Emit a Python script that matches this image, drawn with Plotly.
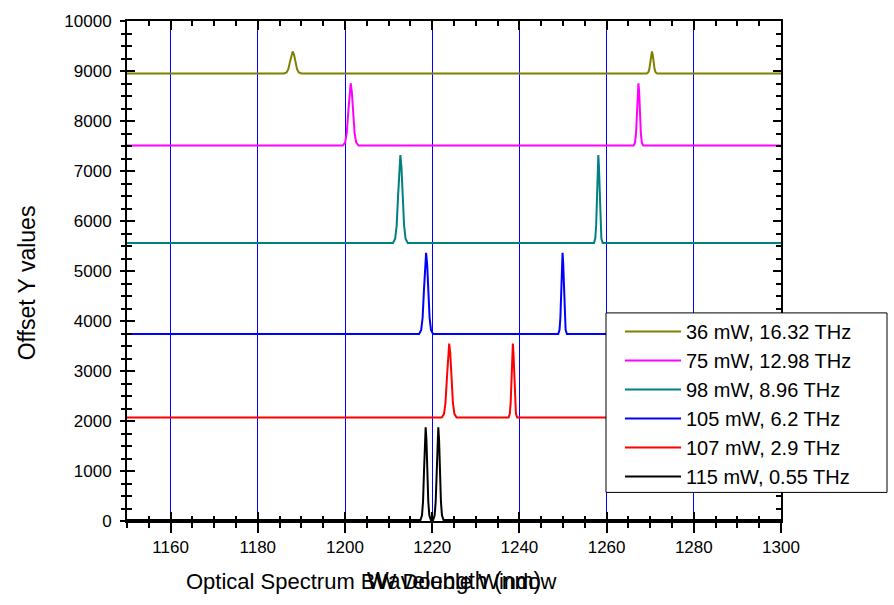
import plotly.graph_objects as go

# ---- data ----
labels = ["36 mW, 16.32 THz", "75 mW, 12.98 THz", "98 mW, 8.96 THz",
          "105 mW, 6.2 THz", "107 mW, 2.9 THz", "115 mW, 0.55 THz"]
colors = ["#808000", "#FF00FF", "#008080", "#0000FF", "#FF0000", "#000000"]

wl_36 = [1150,
         1186.0, 1186.6, 1187.0, 1187.4, 1187.7, 1188.0, 1188.3, 1188.6, 1189.0, 1189.4, 1190.0,
         1269.2, 1269.56, 1269.8, 1270.04, 1270.22, 1270.4, 1270.58, 1270.76, 1271.0, 1271.24, 1271.6,
         1300]
y_36 = [8950,
        8950, 8972, 9038, 9192, 9328, 9390, 9328, 9192, 9038, 8972, 8950,
        8950, 8972, 9038, 9192, 9328, 9390, 9328, 9192, 9038, 8972, 8950,
        8950]

wl_75 = [1150,
         1199.5, 1200.04, 1200.4, 1200.76, 1201.03, 1201.3, 1201.57, 1201.84, 1202.2, 1202.56, 1203.1,
         1266.2, 1266.53, 1266.75, 1266.97, 1267.14, 1267.3, 1267.47, 1267.63, 1267.85, 1268.07, 1268.4,
         1300]
y_75 = [7510,
        7510, 7572, 7759, 8195, 8581, 8755, 8581, 8195, 7759, 7572, 7510,
        7510, 7572, 7759, 8195, 8581, 8755, 8581, 8195, 7759, 7572, 7510,
        7510]

wl_98 = [1150,
         1211.0, 1211.51, 1211.85, 1212.19, 1212.45, 1212.7, 1212.95, 1213.21, 1213.55, 1213.89, 1214.4,
         1257.1, 1257.4, 1257.6, 1257.8, 1257.95, 1258.1, 1258.25, 1258.4, 1258.6, 1258.8, 1259.1,
         1300]
y_98 = [5560,
        5560, 5648, 5912, 6527, 7072, 7318, 7072, 6527, 5912, 5648, 5560,
        5560, 5648, 5912, 6527, 7072, 7318, 7072, 6527, 5912, 5648, 5560,
        5560]

wl_105 = [1150,
          1217.0, 1217.48, 1217.8, 1218.12, 1218.36, 1218.6, 1218.84, 1219.08, 1219.4, 1219.72, 1220.2,
          1248.9, 1249.2, 1249.4, 1249.6, 1249.75, 1249.9, 1250.05, 1250.2, 1250.4, 1250.6, 1250.9,
          1300]
y_105 = [3740,
         3740, 3821, 4065, 4634, 5138, 5365, 5138, 4634, 4065, 3821, 3740,
         3740, 3821, 4065, 4634, 5138, 5365, 5138, 4634, 4065, 3821, 3740,
         3740]

wl_107 = [1150,
          1222.2, 1222.71, 1223.05, 1223.39, 1223.65, 1223.9, 1224.15, 1224.41, 1224.75, 1225.09, 1225.6,
          1237.5, 1237.8, 1238.0, 1238.2, 1238.35, 1238.5, 1238.65, 1238.8, 1239.0, 1239.2, 1239.5,
          1300]
y_107 = [2070,
         2070, 2144, 2366, 2884, 3343, 3550, 3343, 2884, 2366, 2144, 2070,
         2070, 2144, 2366, 2884, 3343, 3550, 3343, 2884, 2366, 2144, 2070,
         2070]

wl_115 = [1150,
          1217.3, 1217.66, 1217.9, 1218.14, 1218.32, 1218.5, 1218.68, 1218.86, 1219.1, 1219.34, 1219.7,
          1220.2, 1220.56, 1220.8, 1221.04, 1221.22, 1221.4, 1221.58, 1221.76, 1222.0, 1222.24, 1222.6,
          1300]
y_115 = [20,
         20, 113, 391, 1040, 1614, 1874, 1614, 1040, 391, 113, 20,
         20, 113, 391, 1040, 1614, 1874, 1614, 1040, 391, 113, 20,
         20]

series_x = [wl_36, wl_75, wl_98, wl_105, wl_107, wl_115]
series_y = [y_36, y_75, y_98, y_105, y_107, y_115]

x_ticks = [1160, 1180, 1200, 1220, 1240, 1260, 1280, 1300]
y_ticks = [0, 1000, 2000, 3000, 4000, 5000, 6000, 7000, 8000, 9000, 10000]
y_tick_text = [str(v) for v in y_ticks]

FONT = "Liberation Sans, Arial, sans-serif"

# pixel geometry of the plot area (for paper-coordinate placement)
L, R, T, B = 127, 781, 14, 521
W_PX, H_PX = R - L, B - T
def px(xp):
    return (xp - L) / W_PX
def py(yp):
    return (B - yp) / H_PX

fig = go.Figure()
for xs, ys, name, col in zip(series_x, series_y, labels, colors):
    fig.add_trace(go.Scatter(x=xs, y=ys, mode="lines", name=name,
                             line=dict(color=col, width=2)))

# invisible trace to activate the overlay axes (inside ticks)
fig.add_trace(go.Scatter(x=[1150], y=[0], xaxis="x2", yaxis="y2",
                         mode="markers", marker=dict(opacity=0),
                         showlegend=False, hoverinfo="skip"))

common = dict(showline=True, linecolor="black", linewidth=2,
              tickcolor="black", tickwidth=2, zeroline=False)

fig.update_layout(
    width=894, height=605,
    margin=dict(l=L, r=894 - R, t=T, b=605 - B),
    paper_bgcolor="white", plot_bgcolor="white",
    font=dict(family=FONT, size=17, color="black"),
    xaxis=dict(range=[1150, 1300], tickvals=x_ticks, ticks="outside",
               ticklen=10, mirror=True, showgrid=True,
               gridcolor="#0000FF", gridwidth=1,
               minor=dict(ticks="outside", ticklen=5, dtick=5,
                          tickcolor="black", tickwidth=2, showgrid=False),
               tickfont=dict(size=17), **common),
    yaxis=dict(range=[0, 10000], tickvals=y_ticks, ticktext=y_tick_text,
               ticks="outside", ticklen=5, mirror=True, showgrid=False,
               ticklabelstandoff=5,
               minor=dict(ticks="outside", ticklen=4, dtick=250,
                          tickcolor="black", tickwidth=2),
               tickfont=dict(size=17), **common),
    xaxis2=dict(range=[1150, 1300], overlaying="x", anchor="y",
                tickvals=x_ticks, ticks="inside", ticklen=9,
                mirror="ticks", showticklabels=False, showgrid=False,
                minor=dict(ticks="inside", ticklen=5, dtick=5,
                           tickcolor="black", tickwidth=2),
                **common),
    yaxis2=dict(range=[0, 10000], overlaying="y", anchor="x",
                tickvals=y_ticks, ticks="inside", ticklen=8,
                mirror="ticks", showticklabels=False, showgrid=False,
                minor=dict(ticks="inside", ticklen=5, dtick=250,
                           tickcolor="black", tickwidth=2),
                **common),
    legend=dict(x=px(620), y=py(309), xanchor="left", yanchor="top",
                bgcolor="rgba(0,0,0,0)", borderwidth=0,
                font=dict(size=20, family=FONT), itemwidth=56,
                tracegroupgap=0),
    showlegend=True,
    shapes=[dict(type="rect", xref="paper", yref="paper",
                 x0=px(606), x1=px(887), y0=py(492), y1=py(310),
                 line=dict(color="black", width=1), fillcolor="white",
                 layer="above")],
    annotations=[
        dict(text="Optical Spectrum BW Double Window", xref="paper", yref="paper",
             x=px(184), y=py(582), xanchor="left", yanchor="middle",
             showarrow=False, font=dict(size=22, family=FONT)),
        dict(text="Wavelength (nm)", xref="paper", yref="paper",
             x=0.5, y=py(582), xanchor="center", yanchor="middle",
             showarrow=False, font=dict(size=23, family=FONT)),
        dict(text="Offset Y values", xref="paper", yref="paper",
             x=px(27), y=py(280), xanchor="center", yanchor="middle",
             textangle=-90, showarrow=False, font=dict(size=23, family=FONT)),
    ],
)

fig.write_html("out.html")
